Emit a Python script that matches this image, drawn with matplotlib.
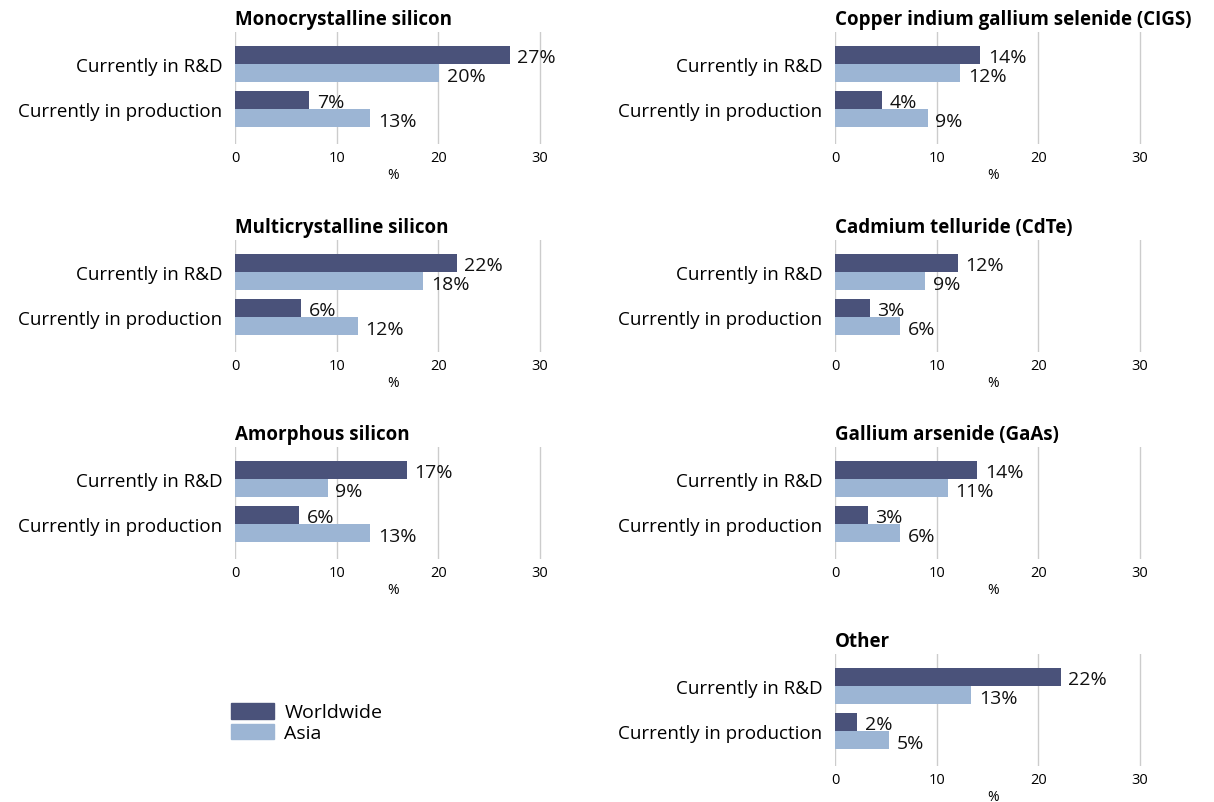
import matplotlib.pyplot as plt
from matplotlib.patches import Patch

plt.rcParams['font.family'] = ['Open Sans', 'DejaVu Sans']

stages = ['Currently in R&D', 'Currently in production']
titles = ['Monocrystalline silicon', 'Copper indium gallium selenide (CIGS)',
          'Multicrystalline silicon', 'Cadmium telluride (CdTe)',
          'Amorphous silicon', 'Gallium arsenide (GaAs)',
          None, 'Other']
# values per panel: [R&D, production]
worldwide = [[27.0, 7.3], [14.3, 4.6],
             [21.8, 6.5], [12.1, 3.4],
             [16.9, 6.3], [14.0, 3.2],
             None, [22.2, 2.2]]
asia = [[20.1, 13.3], [12.3, 9.1],
        [18.5, 12.1], [8.9, 6.4],
        [9.1, 13.3], [11.1, 6.4],
        None, [13.4, 5.3]]
world_labels = [['27%', '7%'], ['14%', '4%'],
                ['22%', '6%'], ['12%', '3%'],
                ['17%', '6%'], ['14%', '3%'],
                None, ['22%', '2%']]
asia_labels = [['20%', '13%'], ['12%', '9%'],
               ['18%', '12%'], ['9%', '6%'],
               ['9%', '13%'], ['11%', '6%'],
               None, ['13%', '5%']]
ticks = [0, 10, 20, 30]

dark = '#4a527a'
light = '#9cb5d4'

W, H = 1214, 803
fig = plt.figure(figsize=(W / 100, H / 100), dpi=100)

col_x = [235, 835]
row_top = [33, 241, 448, 655]
ax_w = 305 * 31 / 30
ax_h = 112
h = 0.4

for i, title in enumerate(titles):
    if title is None:
        continue
    r, c = divmod(i, 2)
    x0 = col_x[c]
    y0 = row_top[r]
    ax = fig.add_axes([x0 / W, 1 - (y0 + ax_h) / H, ax_w / W, ax_h / H])
    ys = list(range(len(stages)))
    ax.barh([y - h / 2 for y in ys], worldwide[i], height=h, color=dark, zorder=3)
    ax.barh([y + h / 2 for y in ys], asia[i], height=h, color=light, zorder=3)
    for y, v, lab in zip(ys, worldwide[i], world_labels[i]):
        ax.annotate(lab, (v, y - h / 2), xytext=(5.5, -1.5), textcoords='offset points',
                    va='center', ha='left', fontsize=14, color='#111111')
    for y, v, lab in zip(ys, asia[i], asia_labels[i]):
        ax.annotate(lab, (v, y + h / 2), xytext=(5.5, -2.5), textcoords='offset points',
                    va='center', ha='left', fontsize=14, color='#111111')
    ax.set_xlim(0, 31)
    ax.set_ylim(1.78, -0.71)
    ax.set_yticks(ys)
    ax.set_yticklabels(stages, fontsize=13.5)
    ax.set_xticks(ticks)
    ax.set_xticklabels([str(t) for t in ticks], fontsize=10.5)
    ax.tick_params(length=0, pad=4)
    ax.tick_params(axis='y', pad=9)
    ax.grid(axis='x', color='#cccccc', linewidth=1, zorder=0)
    for s in ax.spines.values():
        s.set_visible(False)
    ax.set_xlabel('%', fontsize=10, labelpad=2)
    ax.text(0, 1.03, title, transform=ax.transAxes, fontsize=13.5,
            fontweight='bold', ha='left', va='bottom')

fig.legend(handles=[Patch(color=dark, label='Worldwide'), Patch(color=light, label='Asia')],
           loc='upper left', bbox_to_anchor=(231 / W, 1 - 704 / H), frameon=False,
           fontsize=14, handlelength=2.2, handleheight=0.85, labelspacing=0.12,
           handletextpad=0.55, borderaxespad=0, borderpad=0)

fig.savefig('out.png', dpi=100)
